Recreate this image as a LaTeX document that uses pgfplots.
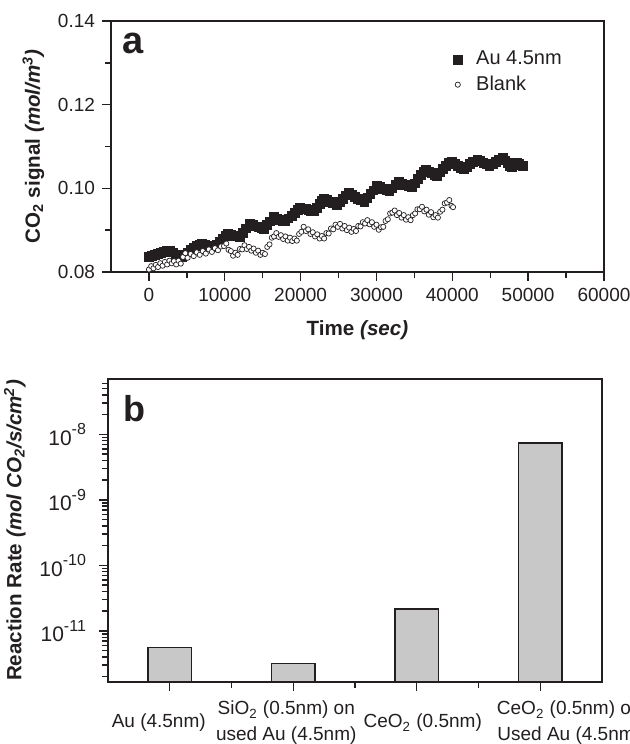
\documentclass[border=0pt]{standalone}
\usepackage{fontspec}
\setmainfont{Liberation Sans}
\usepackage{pgfplots}
\pgfplotsset{compat=1.18}
\definecolor{bargray}{HTML}{C8C8C8}
\definecolor{ink}{HTML}{231F20}
\newcommand{\lsup}[1]{\raisebox{0.5em}{\fontsize{8}{8}\selectfont #1}}
\pgfplotsset{
  common/.style={
    scale only axis, anchor=south west,
    /pgf/number format/assume math mode=true,
    tick label style={font=\fontsize{9.5}{13}\selectfont, color=ink},
    label style={font=\fontsize{10.3}{12}\selectfont\bfseries, color=ink},
    tick align=outside, xtick pos=left, ytick pos=left,
    major tick length=4.5pt, minor tick length=3pt,
    every tick/.style={line width=0.7pt, ink},
    axis line style={line width=0.8pt, ink},
  }
}
\begin{document}
\begin{tikzpicture}
\path[use as bounding box] (0pt,0pt) rectangle (315pt,372pt);
\begin{axis}[common, at={(55.5pt,236pt)}, width=246.5pt, height=125.5pt,
  xmin=-5000, xmax=60000, ymin=0.08, ymax=0.14,
  xtick={0,10000,20000,30000,40000,50000,60000}, minor x tick num=1,
  ytick={0.08,0.10,0.12,0.14}, minor y tick num=1,
  scaled x ticks=false, scaled y ticks=false,
  xticklabel style={/pgf/number format/1000 sep={}},
  yticklabel style={/pgf/number format/fixed, /pgf/number format/fixed zerofill, /pgf/number format/precision=2},
  xlabel={Time \textit{(sec)}},
  xlabel style={yshift=-2.5pt},
  ylabel={CO\textsubscript{2} signal \textit{(mol/m\textsuperscript{3})}},
  legend style={at={(axis cs:39300,0.1348)}, anchor=north west, draw=none, fill=none,
    font=\fontsize{10}{12}\selectfont, text=ink, row sep=0pt,
    /tikz/every odd column/.append style={column sep=5pt}},
  legend cell align=left,
]
\addplot[only marks, mark=square*, mark size=2.2pt, mark options={draw=ink, fill=ink}] coordinates {
(0,.0836) (400,.0838) (800,.0841) (1200,.0843) (1600,.0846) (2000,.0848) (2400,.0850) (2800,.0851)
(3200,.0847) (3600,.0842) (4000,.0839) (4300,.0837) (4700,.0842) (5100,.0847) (5500,.0852) (5900,.0857)
(6300,.0862) (6700,.0866) (7000,.0867) (7400,.0865) (7800,.0863) (8200,.0861) (8500,.0860) (8900,.0866)
(9300,.0873) (9700,.0880) (10100,.0886) (10400,.0891) (10800,.0889) (11200,.0887) (11600,.0885) (12000,.0884)
(12400,.0894) (12800,.0904) (13300,.0915) (13700,.0912) (14100,.0909) (14500,.0907) (14900,.0905) (15200,.0903)
(15600,.0912) (16000,.0921) (16500,.0931) (16900,.0928) (17300,.0925) (17700,.0922) (18000,.0921) (18400,.0928)
(18800,.0935) (19200,.0942) (19600,.0948) (19950,.0954) (20300,.0952) (20700,.0950) (21100,.0948) (21400,.0946)
(21700,.0945) (22100,.0954) (22500,.0963) (22800,.0970) (23100,.0976) (23500,.0972) (23900,.0968) (24300,.0964)
(24800,.0960) (25200,.0967) (25600,.0975) (26000,.0983) (26400,.0990) (26800,.0985) (27200,.0980) (27600,.0975)
(28000,.0971) (28400,.0968) (28800,.0977) (29200,.0986) (29600,.0995) (30100,.1006) (30500,.1003) (30900,.0999)
(31300,.0996) (31700,.0993) (32100,.1000) (32500,.1008) (33000,.1016) (33400,.1012) (33800,.1008) (34200,.1005)
(34700,.1002) (35100,.1012) (35500,.1022) (35900,.1032) (36200,.1039) (36500,.1044) (36900,.1040) (37300,.1036)
(37700,.1032) (38000,.1030) (38400,.1038) (38800,.1046) (39200,.1053) (39600,.1060) (39900,.1064) (40300,.1059)
(40700,.1054) (41100,.1049) (41500,.1046) (41900,.1052) (42300,.1058) (42700,.1063) (43300,.1069) (43700,.1065)
(44100,.1061) (44500,.1057) (44900,.1054) (45300,.1059) (45700,.1064) (46100,.1069) (46700,.1074) (47000,.1067)
(47300,.1060) (47600,.1054) (47900,.1052) (48200,.1056) (48500,.1061) (48800,.1058) (49100,.1055) (49300,.1053)
};
\addplot[only marks, mark=*, mark size=1.3pt, mark options={draw=ink, fill=white, line width=0.35pt}] coordinates {
(0,.0806) (300,.0814) (600,.0809) (900,.0817) (1200,.0812) (1500,.0821) (1800,.0815) (2100,.0824)
(2400,.0818) (2700,.0827) (3000,.0821) (3300,.0826) (3600,.0818) (3900,.0827) (4200,.0820) (4500,.0836)
(4800,.0845) (5100,.0834) (5500,.0843) (5900,.0838) (6300,.0847) (6700,.0841) (7100,.0850) (7500,.0844)
(7900,.0854) (8300,.0848) (8700,.0857) (9100,.0852) (9500,.0861) (9900,.0862) (10200,.0868) (10500,.0853)
(10800,.0850) (11100,.0839) (11400,.0846) (11700,.0841) (12000,.0855) (12300,.0854) (12600,.0864) (12900,.0855)
(13200,.0860) (13500,.0851) (13800,.0856) (14100,.0846) (14400,.0851) (14700,.0841) (15000,.0846) (15300,.0843)
(15600,.0860) (15900,.0866) (16200,.0882) (16500,.0885) (16800,.0893) (17100,.0884) (17400,.0888) (17700,.0879)
(18000,.0885) (18300,.0875) (18600,.0882) (18900,.0874) (19200,.0880) (19500,.0875) (19800,.0891) (20100,.0896)
(20400,.0908) (20700,.0898) (21000,.0902) (21300,.0891) (21600,.0895) (21900,.0885) (22200,.0890) (22500,.0880)
(22800,.0886) (23100,.0880) (23400,.0893) (23700,.0892) (24000,.0904) (24300,.0902) (24600,.0913) (24900,.0908)
(25200,.0915) (25500,.0904) (25800,.0910) (26100,.0900) (26400,.0906) (26700,.0896) (27000,.0903) (27300,.0898)
(27600,.0910) (27900,.0909) (28200,.0919) (28500,.0916) (28800,.0924) (29100,.0914) (29400,.0919) (29700,.0908)
(30000,.0913) (30300,.0901) (30600,.0907) (30900,.0908) (31200,.0922) (31500,.0926) (31800,.0940) (32100,.0942)
(32400,.0947) (32700,.0936) (33000,.0941) (33300,.0930) (33600,.0936) (33900,.0925) (34200,.0931) (34500,.0924)
(34800,.0936) (35100,.0940) (35400,.0950) (35700,.0950) (36000,.0956) (36300,.0945) (36600,.0949) (36900,.0937)
(37200,.0943) (37500,.0931) (37800,.0936) (38100,.0930) (38400,.0944) (38700,.0949) (39000,.0964) (39300,.0966)
(39600,.0972) (39900,.0958) (40100,.0955)
};
\legend{Au 4.5nm, Blank}
\node[anchor=north west, inner sep=0pt, font=\fontsize{19}{19}\selectfont\bfseries, text=ink] at (rel axis cs:0.022,0.952) {a};
\end{axis}

\begin{axis}[common, at={(54pt,31pt)}, width=247pt, height=151.5pt,
  ymode=log, log origin=infty, ymin=1.66e-12, ymax=6.97e-8,
  xmin=-0.5, xmax=3.5, xtick={0,1,2,3}, minor xtick={0.5,1.5,2.5},
  xticklabels={{\hspace*{-11pt}Au (4.5nm)},
    {\hspace*{-7pt}SiO\textsubscript{2} (0.5nm) on\\\hspace*{-7pt}used Au (4.5nm)},
    {\hspace*{6pt}CeO\textsubscript{2} (0.5nm)},
    {\hspace*{29pt}CeO\textsubscript{2} (0.5nm) on\\\hspace*{29pt}Used Au (4.5nm)}},
  xticklabel style={align=center, anchor=center, yshift=-16pt},
  ytick={1e-11,1e-10,1e-9,1e-8},
  yticklabels={10\lsup{-11},10\lsup{-10},10\lsup{-9},10\lsup{-8}},
  yticklabel style={font=\fontsize{10.5}{12}\selectfont, xshift=-3pt},
  minor ytick={2e-12,3e-12,4e-12,5e-12,6e-12,7e-12,8e-12,9e-12,
    2e-11,3e-11,4e-11,5e-11,6e-11,7e-11,8e-11,9e-11,
    2e-10,3e-10,4e-10,5e-10,6e-10,7e-10,8e-10,9e-10,
    2e-9,3e-9,4e-9,5e-9,6e-9,7e-9,8e-9,9e-9,
    2e-8,3e-8,4e-8,5e-8,6e-8},
  ylabel={Reaction Rate \textit{(mol CO\textsubscript{2}/s/cm\textsuperscript{2})}},
  ybar, bar width=0.35,
]
\addplot[fill=bargray, draw=ink, line width=0.8pt] coordinates {(0,5.6e-12) (1,3.19e-12) (2,2.14e-11) (3,7.34e-9)};
\node[anchor=north west, inner sep=0pt, font=\fontsize{18}{18}\selectfont\bfseries, text=ink] at (rel axis cs:0.030,0.947) {b};
\end{axis}
\end{tikzpicture}
\end{document}
